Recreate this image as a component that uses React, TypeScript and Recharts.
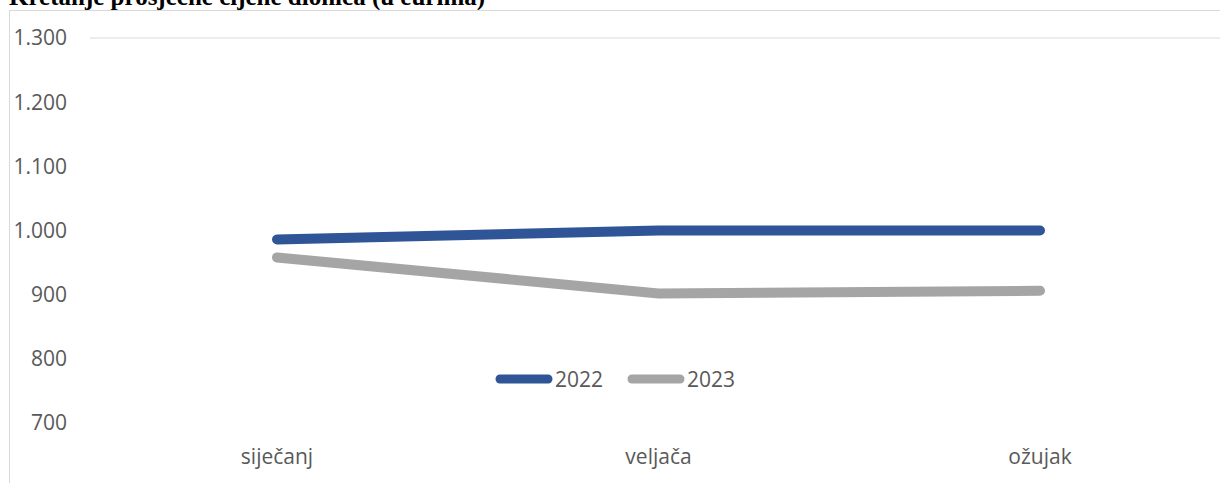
import React from "react";
import { LineChart, Line, XAxis, YAxis, ReferenceLine, Legend } from "recharts";

const categories = ["siječanj", "veljača", "ožujak"];
const series2022 = [986, 1000, 1000];
const series2023 = [958, 902, 906];
const yTicks = [700, 800, 900, 1000, 1100, 1200, 1300];
const title = "Kretanje prosječne cijene dionica (u eurima)";

const data = categories.map((c, i) => ({ name: c, y2022: series2022[i], y2023: series2023[i] }));

const fmt = (v: number) => v.toLocaleString("de-DE");

const LegendContent = (props: any) => {
  const { payload } = props;
  return (
    <div style={{ display: "flex", alignItems: "center", fontFamily: "'Open Sans', sans-serif", fontSize: 21, color: "#595959", lineHeight: "28px" }}>
      {(payload || []).map((p: any, i: number) => (
        <div key={i} style={{ display: "flex", alignItems: "center", marginRight: i === 0 ? 19 : 0 }}>
          <svg width={64} height={12}>
            <line x1={10} y1={6} x2={58} y2={6} stroke={p.color} strokeWidth={9} strokeLinecap="round" />
          </svg>
          <span style={{ marginLeft: 1 }}>{p.value}</span>
        </div>
      ))}
    </div>
  );
};

export default function App() {
  return (
    <div style={{ position: "absolute", left: 0, top: 0, width: 1220, height: 483, overflow: "hidden", background: "#fff" }}>
      <div style={{ position: "absolute", left: 9, top: -17, fontFamily: "'Liberation Serif', serif", fontWeight: "bold", fontSize: 25, lineHeight: "28px", color: "#000", whiteSpace: "nowrap" }}>
        {title}
      </div>
      <div style={{ position: "absolute", left: 9, top: 10, width: 1300, height: 600, border: "1px solid #d9d9d9", boxSizing: "border-box" }} />
      <div style={{ position: "absolute", left: 0, top: 0 }}>
        <LineChart width={1240} height={483} data={data} margin={{ top: 38, right: 0, bottom: 0, left: 0 }}>
          <ReferenceLine y={1300} stroke="#d9d9d9" strokeWidth={1} />
          <XAxis
            dataKey="name"
            height={32}
            padding={{ left: 187, right: 200 }}
            axisLine={false}
            tickLine={false}
            tickSize={0}
            tickMargin={26}
            tick={{ fill: "#595959", fontSize: 21, fontFamily: "'Open Sans', sans-serif" }}
          />
          <YAxis
            domain={[700, 1300]}
            ticks={yTicks}
            width={90}
            axisLine={false}
            tickLine={false}
            tickSize={0}
            tickMargin={23}
            tickFormatter={fmt}
            tick={{ fill: "#595959", fontSize: 21, fontFamily: "'Open Sans', sans-serif" }}
          />
          <Line type="linear" dataKey="y2022" name="2022" stroke="#2F5597" strokeWidth={10} strokeLinecap="round" dot={false} isAnimationActive={false} />
          <Line type="linear" dataKey="y2023" name="2023" stroke="#A5A5A5" strokeWidth={10} strokeLinecap="round" dot={false} isAnimationActive={false} />
          <Legend content={<LegendContent />} wrapperStyle={{ position: "absolute", left: 490, top: 365, width: "auto" }} />
        </LineChart>
      </div>
    </div>
  );
}
